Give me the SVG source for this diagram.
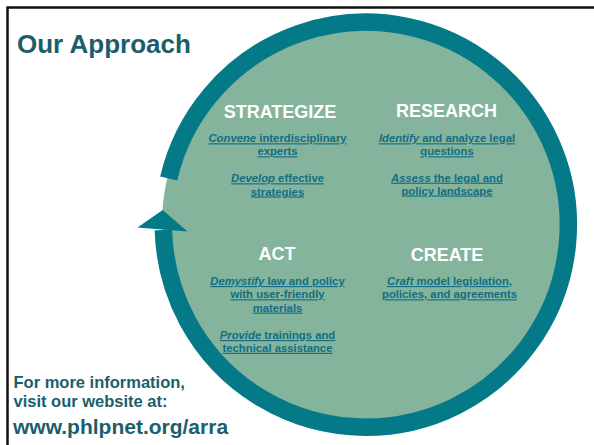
<svg xmlns="http://www.w3.org/2000/svg" width="594" height="445" viewBox="0 0 594 445">
<style>
.title{font-family:"Liberation Sans",Arial,sans-serif;font-weight:bold;fill:#1B5E6B}
.head{font-family:"Liberation Sans",Arial,sans-serif;font-weight:bold;fill:#FFFFFF;font-size:18px;text-anchor:middle}
.body{font-family:"Liberation Sans",Arial,sans-serif;font-weight:bold;fill:#126E84;font-size:11.3px;text-anchor:middle;text-decoration:underline}
.it{font-style:italic}
.ring{fill:none;stroke:#047A88;stroke-width:17.5;stroke-linecap:butt}
</style>
<rect x="0" y="0" width="594" height="445" fill="#FFFFFF"/>
<path d="M7.5 445 V7.5 H594" fill="none" stroke="#111111" stroke-width="2.5"/>
<circle id="disc" cx="366" cy="224" r="204" fill="#84B49C"/>
<g id="connectors">
<path class="ring" d="M168.7 178.4 A202.5 202.5 0 1 1 163.4 230"/>
<polygon points="162.7,210 137.5,227.5 187.5,231.5" fill="#047A88"/>
</g>
<g id="title"><text class="title" x="17" y="53" font-size="26">Our Approach</text></g>
<g id="strategize">
<text class="head" x="280" y="117.5">STRATEGIZE</text>
<text class="body" x="277.5" y="142.3"><tspan class="it">Convene</tspan> interdisciplinary</text>
<text class="body" x="277.5" y="155.3">experts</text>
<text class="body" x="277.5" y="182.3"><tspan class="it">Develop</tspan> effective</text>
<text class="body" x="277.5" y="195.5">strategies</text>
</g>
<g id="research">
<text class="head" x="446.5" y="117">RESEARCH</text>
<text class="body" x="447" y="142.3"><tspan class="it">Identify</tspan> and analyze legal</text>
<text class="body" x="447" y="155.3">questions</text>
<text class="body" x="447" y="181.7"><tspan class="it">Assess</tspan> the legal and</text>
<text class="body" x="447" y="194.5">policy landscape</text>
</g>
<g id="act">
<text class="head" x="277" y="260">ACT</text>
<text class="body" x="277.5" y="285"><tspan class="it">Demystify</tspan> law and policy</text>
<text class="body" x="277.5" y="298.3">with user-friendly</text>
<text class="body" x="277.5" y="311.6">materials</text>
<text class="body" x="277.5" y="339"><tspan class="it">Provide</tspan> trainings and</text>
<text class="body" x="277.5" y="351.8">technical assistance</text>
</g>
<g id="create">
<text class="head" x="447" y="260.5">CREATE</text>
<text class="body" x="449.5" y="285"><tspan class="it">Craft</tspan> model legislation,</text>
<text class="body" x="449.5" y="298.3">policies, and agreements</text>
</g>
<g id="footer">
<text class="title" x="13.5" y="388" font-size="16.5">For more information,</text>
<text class="title" x="13.5" y="407" font-size="16.5">visit our website at:</text>
<text class="title" x="13" y="434" font-size="21">www.phlpnet.org/arra</text>
</g>
</svg>
